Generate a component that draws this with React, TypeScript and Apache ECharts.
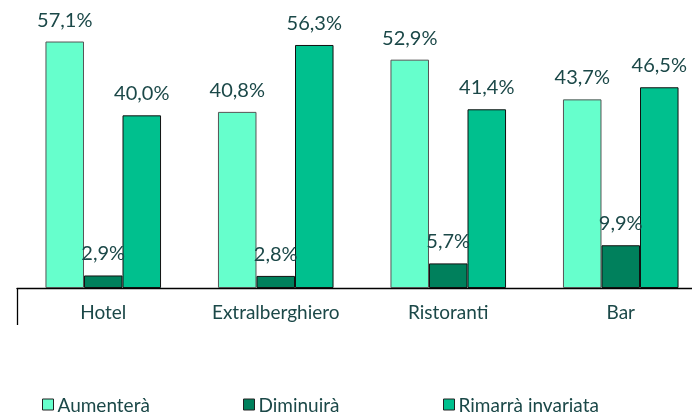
import React, { useEffect, useRef } from "react";
import * as echarts from "echarts";

const categories = ["Hotel", "Extralberghiero", "Ristoranti", "Bar"];
const seriesNames = ["Aumenterà", "Diminuirà", "Rimarrà invariata"];
const aumentera = [57.1, 40.8, 52.9, 43.7];
const diminuira = [2.9, 2.8, 5.7, 9.9];
const invariata = [40.0, 56.3, 41.4, 46.5];

const colors = ["#66FFCC", "#00805C", "#00C08E"];
const FONT = "Lato, 'Noto Sans', sans-serif";
const TEXT = "#1B4848";

const fmt = (p: any) => p.value.toFixed(1).replace(".", ",") + "%";

export default function App() {
  const ref = useRef<HTMLDivElement>(null);
  useEffect(() => {
    if (!ref.current) return;
    const chart = echarts.init(ref.current, undefined, { renderer: "svg" });
    const values = [aumentera, diminuira, invariata];
    const legendLefts = [42, 243, 443];
    chart.setOption({
      animation: false,
      grid: { left: 17, top: 29, right: 13, bottom: 127, containLabel: false },
      legend: seriesNames.map((n, i) => ({
        data: [n],
        left: legendLefts[i],
        top: 395,
        padding: 0,
        itemWidth: 11,
        itemHeight: 11,
        itemGap: 4,
        icon: "rect",
        itemStyle: { borderColor: "#222", borderWidth: 1 },
        textStyle: { fontFamily: FONT, fontSize: 19, lineHeight: 19, color: TEXT, padding: [0, 0, 0, -1] },
      })),
      xAxis: {
        type: "category",
        data: categories,
        axisLine: { show: true, lineStyle: { color: "#000", width: 1.3 } },
        axisTick: {
          show: true,
          interval: (index: number) => index === 0,
          length: 37,
          lineStyle: { color: "#000", width: 1.3 },
        },
        axisLabel: { fontFamily: FONT, fontSize: 19, color: TEXT, margin: 14 },
      },
      yAxis: {
        type: "value",
        min: 0,
        max: 60,
        show: false,
        splitLine: { show: false },
      },
      series: seriesNames.map((n, i) => ({
        name: n,
        type: "bar",
        data: values[i],
        barGap: "0%",
        barCategoryGap: "33%",
        itemStyle: { color: colors[i], borderColor: i === 0 ? "#555" : "#111", borderWidth: 1 },
        label: {
          show: true,
          position: "top",
          distance: 13,
          formatter: fmt,
          fontFamily: FONT,
          fontSize: 20,
          color: TEXT,
        },
      })),
    });
    return () => chart.dispose();
  }, []);
  return (
    <div
      ref={ref}
      style={{ position: "fixed", left: 0, top: 0, width: 720, height: 415 }}
    />
  );
}
